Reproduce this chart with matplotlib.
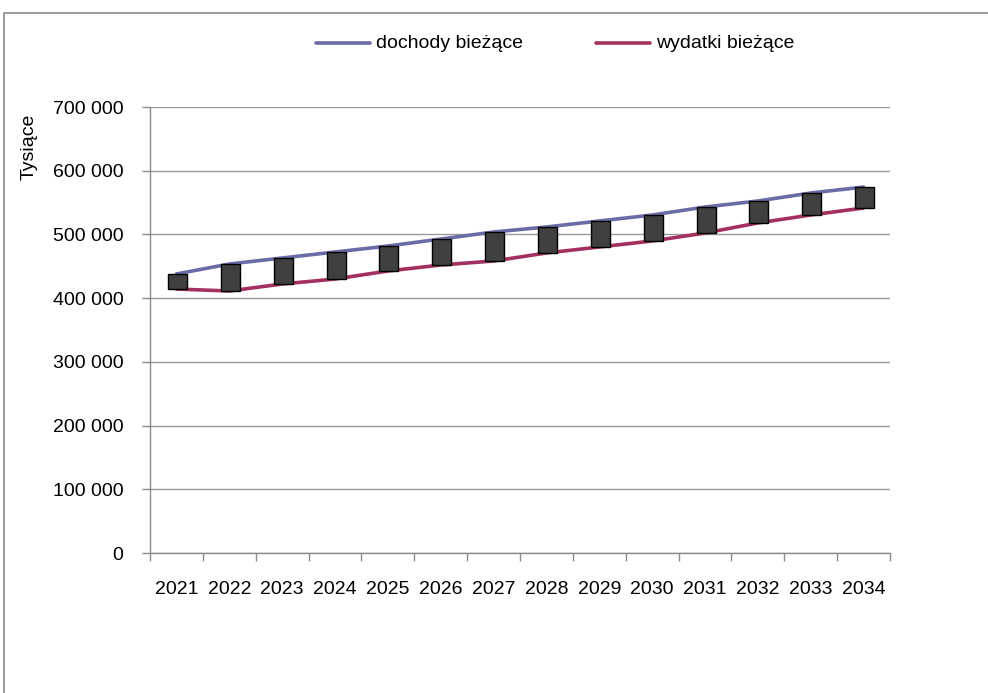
import matplotlib
matplotlib.use("Agg")
import matplotlib.pyplot as plt
from matplotlib.lines import Line2D
import numpy as np

years = ["2021", "2022", "2023", "2024", "2025", "2026", "2027",
         "2028", "2029", "2030", "2031", "2032", "2033", "2034"]
dochody = [437900, 453600, 463000, 472400, 481800, 492800, 503800,
           511700, 521100, 530500, 543000, 552500, 565000, 574400]
wydatki = [414300, 411200, 422200, 430000, 442600, 452000, 458300,
           470900, 480300, 489700, 502200, 518000, 530500, 541500]

plt.rcParams["font.family"] = ["Liberation Sans", "DejaVu Sans"]
fs = 14

fig = plt.figure(figsize=(9.88, 6.93), dpi=100)
ax = fig.add_axes([150/988, 1-553/693, 740/988, 446/693])

x = np.arange(len(years))
doch = np.array(dochody)
wyd = np.array(wydatki)

ax.plot(x, doch, color="#6B6BA8", lw=2.6, solid_capstyle="round", zorder=3)
ax.plot(x, wyd, color="#A3305F", lw=2.6, solid_capstyle="round", zorder=3)
# up/down bars between the two series
ax.bar(x + 0.02, doch - wyd, bottom=wyd, width=0.36, color="#404040",
       edgecolor="black", linewidth=1, zorder=4)

ax.set_xlim(-0.5, len(years) - 0.5)
ax.set_ylim(0, 700000)
ax.set_yticks(np.arange(0, 700001, 100000))
ax.set_yticklabels([f"{v:,}".replace(",", " ") for v in range(0, 700001, 100000)])
ax.yaxis.grid(True, color="#9a9a9a", lw=1)
ax.set_axisbelow(True)

ax.set_xticks(x)
ax.set_xticklabels(years)
ax.set_xticks(np.arange(-0.5, len(years)), minor=True)
ax.tick_params(axis="x", which="major", length=0, pad=20, labelsize=fs)
ax.tick_params(axis="x", which="minor", length=6, color="#8a8a8a", width=1)
ax.tick_params(axis="y", length=6, color="#8a8a8a", width=1, pad=13, labelsize=fs)

for s in ["top", "right"]:
    ax.spines[s].set_visible(False)
for s in ["left", "bottom"]:
    ax.spines[s].set_color("#8a8a8a")
    ax.spines[s].set_linewidth(1)

fig.text(29/988, 1-147/693, "Tysiące", rotation=90, ha="center", va="center", fontsize=fs)

# legend drawn by hand at the top
for x0, col, txt in [(316, "#6B6BA8", "dochody bieżące"), (596, "#A3305F", "wydatki bieżące")]:
    fig.add_artist(Line2D([x0/988, (x0+54)/988], [1-43/693]*2, color=col, lw=2.6,
                          solid_capstyle="round"))
    fig.text((x0+60)/988, 1-43/693, txt, ha="left", va="center", fontsize=fs)

# outer frame
fig.add_artist(Line2D([4/988, 4/988, 1], [0, 1-13/693, 1-13/693], color="#8a8a8a", lw=1.2))

fig.savefig("out.png", dpi=100)
plt.close(fig)
